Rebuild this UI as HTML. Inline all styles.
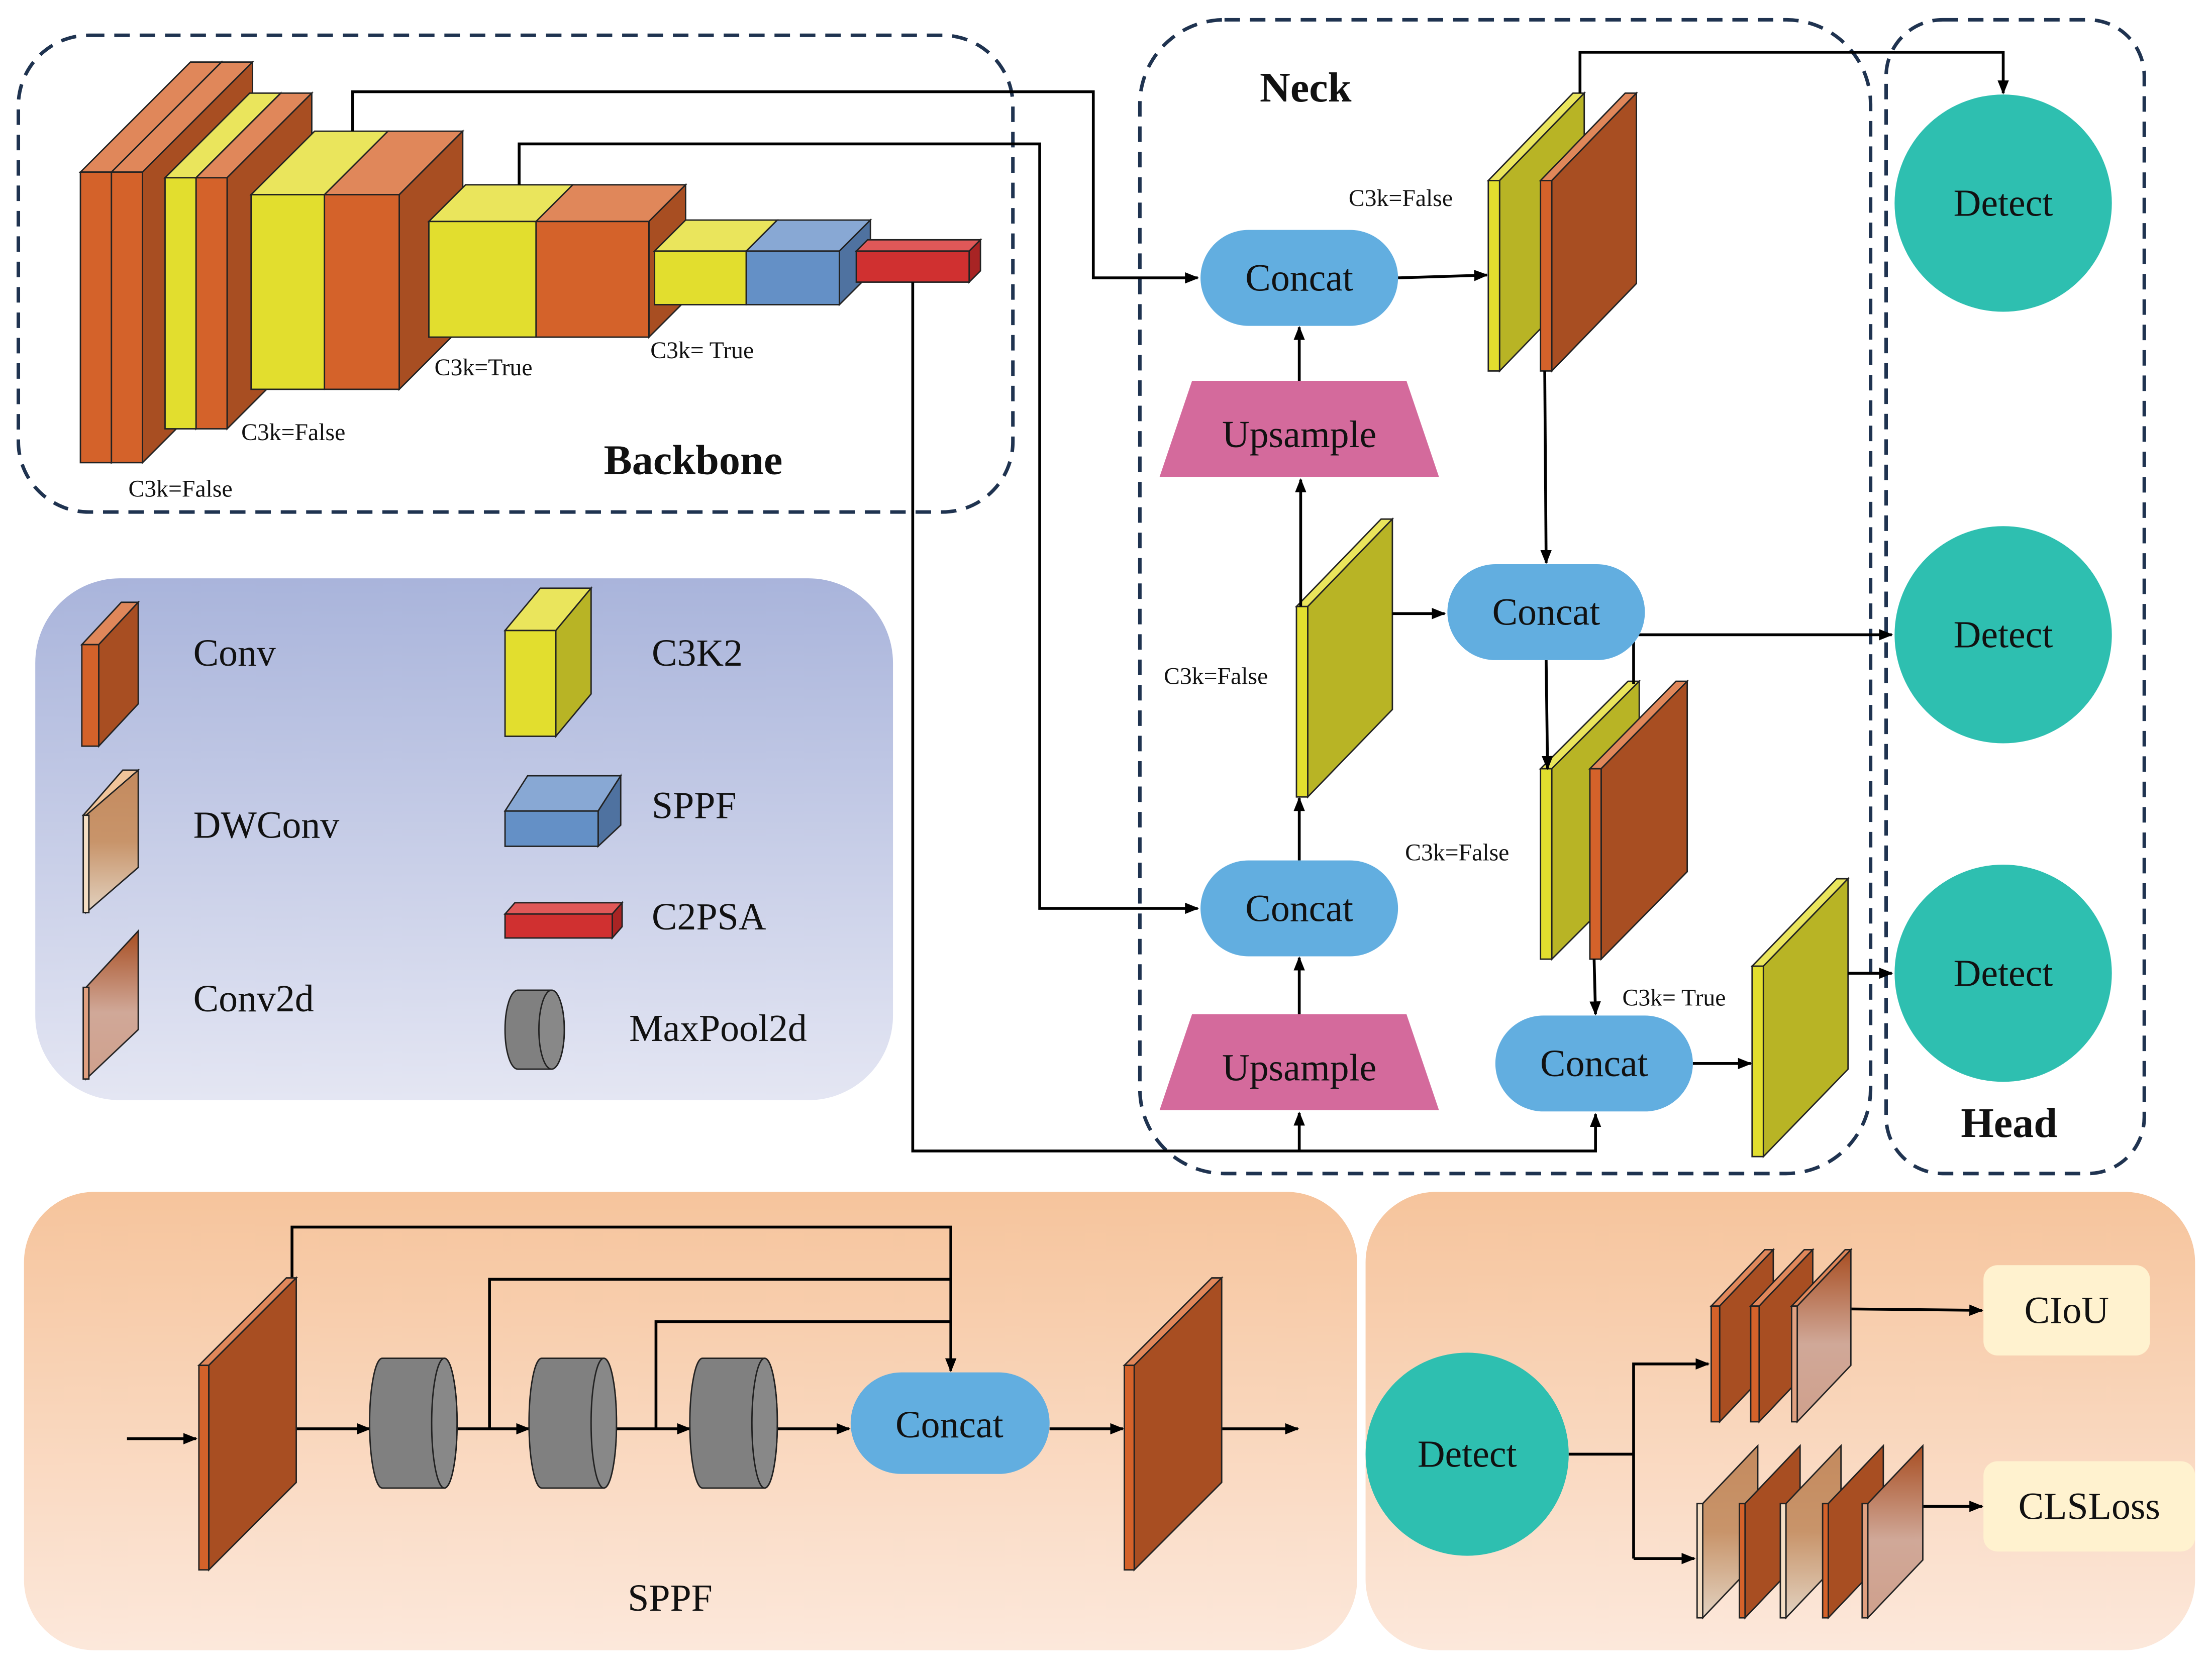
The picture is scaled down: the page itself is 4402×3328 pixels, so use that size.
<!DOCTYPE html>
<html><head><meta charset="utf-8"><style>
html,body{margin:0;padding:0;background:#fff;width:4402px;height:3328px;overflow:hidden}
svg{display:block}
svg text{font-family:"Liberation Serif","Times New Roman",serif !important;fill:#111}
</style></head><body>
<svg width="4402" height="3328" viewBox="0 0 1568 1185.4" xmlns="http://www.w3.org/2000/svg" font-family="Liberation Serif, serif">
<defs>
<marker id="a" markerWidth="10" markerHeight="10" refX="9" refY="5" orient="auto" markerUnits="userSpaceOnUse"><path d="M0,1 L10,5 L0,9 z" fill="#000"/></marker>
<linearGradient id="lg" x1="0" y1="0" x2="0" y2="1"><stop offset="0" stop-color="#A9B4DB"/><stop offset="1" stop-color="#E4E6F3"/></linearGradient>
<linearGradient id="og" x1="0" y1="0" x2="0" y2="1"><stop offset="0" stop-color="#F6C49C"/><stop offset="1" stop-color="#FCE8DB"/></linearGradient>
<linearGradient id="dw" x1="0" y1="0" x2="0" y2="1"><stop offset="0" stop-color="#C48A5E"/><stop offset="0.5" stop-color="#C8946A"/><stop offset="1" stop-color="#E2D2C0"/></linearGradient>
<linearGradient id="c2" x1="0" y1="0" x2="0" y2="1"><stop offset="0" stop-color="#A84E22"/><stop offset="0.55" stop-color="#D0A898"/><stop offset="1" stop-color="#CFA08C"/></linearGradient>
</defs>
<g stroke="#1F3350" stroke-width="2.5" stroke-dasharray="11 7" fill="none">
<rect x="13" y="25" width="705" height="338" rx="50"/>
<rect x="808" y="14" width="518" height="818" rx="60"/>
<rect x="1337" y="14" width="183" height="818" rx="40"/>
</g>
<rect x="25" y="410" width="608" height="370" rx="60" fill="url(#lg)"/>
<rect x="17" y="845" width="945" height="325" rx="50" fill="url(#og)"/>
<rect x="968" y="845" width="588" height="325" rx="50" fill="url(#og)"/>

<g stroke="#222" stroke-width="1">
<polygon points="57,122 135,44 157,44 79,122" fill="#E0875A"/><polygon points="79,122 157,44 157,250 79,328" fill="#A84E22"/><rect x="57" y="122" width="22" height="206" fill="#D4622A"/>
<polygon points="79,122 157,44 179,44 101,122" fill="#E0875A"/><polygon points="101,122 179,44 179,250 101,328" fill="#A84E22"/><rect x="79" y="122" width="22" height="206" fill="#D4622A"/>
<polygon points="117,126 177,66 199,66 139,126" fill="#EAE55C"/><polygon points="139,126 199,66 199,244 139,304" fill="#B8B425"/><rect x="117" y="126" width="22" height="178" fill="#E2DE2E"/>
<polygon points="139,126 199,66 221,66 161,126" fill="#E0875A"/><polygon points="161,126 221,66 221,244 161,304" fill="#A84E22"/><rect x="139" y="126" width="22" height="178" fill="#D4622A"/>
<polygon points="178,138 223,93 275,93 230,138" fill="#EAE55C"/><rect x="178" y="138" width="52" height="138" fill="#E2DE2E"/>
<polygon points="230,138 275,93 328,93 283,138" fill="#E0875A"/><polygon points="283,138 328,93 328,231 283,276" fill="#A84E22"/><rect x="230" y="138" width="53" height="138" fill="#D4622A"/>
<polygon points="304,157 330,131 406,131 380,157" fill="#EAE55C"/><rect x="304" y="157" width="76" height="82" fill="#E2DE2E"/>
<polygon points="380,157 406,131 486,131 460,157" fill="#E0875A"/><polygon points="460,157 486,131 486,213 460,239" fill="#A84E22"/><rect x="380" y="157" width="80" height="82" fill="#D4622A"/>
<polygon points="464,178 486,156 551,156 529,178" fill="#EAE55C"/><rect x="464" y="178" width="65" height="38" fill="#E2DE2E"/>
<polygon points="529,178 551,156 617,156 595,178" fill="#88A8D4"/><polygon points="595,178 617,156 617,194 595,216" fill="#4F72A0"/><rect x="529" y="178" width="66" height="38" fill="#6490C6"/>
<polygon points="607,178 615,170 695,170 687,178" fill="#E05858"/><polygon points="687,178 695,170 695,192 687,200" fill="#A82424"/><rect x="607" y="178" width="80" height="22" fill="#D03030"/>
</g>

<g stroke="#222" stroke-width="1">
<polygon points="1055,128 1115,66 1123,66 1063,128" fill="#EAE55C"/><polygon points="1063,128 1123,66 1123,201 1063,263" fill="#B8B425"/><rect x="1055" y="128" width="8" height="135" fill="#E2DE2E"/>
<polygon points="1092,128 1152,66 1160,66 1100,128" fill="#E0875A"/><polygon points="1100,128 1160,66 1160,201 1100,263" fill="#A84E22"/><rect x="1092" y="128" width="8" height="135" fill="#D4622A"/>
<polygon points="919,430 979,368 987,368 927,430" fill="#EAE55C"/><polygon points="927,430 987,368 987,503 927,565" fill="#B8B425"/><rect x="919" y="430" width="8" height="135" fill="#E2DE2E"/>
<polygon points="1092,545 1154,483 1162,483 1100,545" fill="#EAE55C"/><polygon points="1100,545 1162,483 1162,618 1100,680" fill="#B8B425"/><rect x="1092" y="545" width="8" height="135" fill="#E2DE2E"/>
<polygon points="1127,545 1188,483 1196,483 1135,545" fill="#E0875A"/><polygon points="1135,545 1196,483 1196,618 1135,680" fill="#A84E22"/><rect x="1127" y="545" width="8" height="135" fill="#D4622A"/>
<polygon points="1242,685 1302,623 1310,623 1250,685" fill="#EAE55C"/><polygon points="1250,685 1310,623 1310,758 1250,820" fill="#B8B425"/><rect x="1242" y="685" width="8" height="135" fill="#E2DE2E"/>
</g>

<g stroke="#000" stroke-width="2" fill="none">
<polyline points="250,93 250,65 775,65 775,197 849,197" marker-end="url(#a)"/>
<polyline points="368,131 368,102 737,102 737,644 849,644" marker-end="url(#a)"/>
<polyline points="647,200 647,816 1131,816 1131,790" marker-end="url(#a)"/>
<polyline points="921,816 921,789" marker-end="url(#a)"/>
<line x1="991" y1="197" x2="1054" y2="195" marker-end="url(#a)"/>
<line x1="921" y1="270" x2="921" y2="232" marker-end="url(#a)"/>
<line x1="922" y1="430" x2="922" y2="340" marker-end="url(#a)"/>
<line x1="921" y1="610" x2="921" y2="566" marker-end="url(#a)"/>
<line x1="921" y1="719" x2="921" y2="679" marker-end="url(#a)"/>
<line x1="987" y1="435" x2="1024" y2="435" marker-end="url(#a)"/>
<line x1="1095" y1="263" x2="1096" y2="399" marker-end="url(#a)"/>
<polyline points="1120,66 1120,37 1420,37 1420,66" marker-end="url(#a)"/>
<line x1="1096" y1="468" x2="1097" y2="545" marker-end="url(#a)"/>
<polyline points="1158,485 1158,450 1341,450" marker-end="url(#a)"/>
<line x1="1130" y1="680" x2="1131" y2="719" marker-end="url(#a)"/>
<line x1="1200" y1="754" x2="1241" y2="754" marker-end="url(#a)"/>
<line x1="1310" y1="690" x2="1341" y2="690" marker-end="url(#a)"/>
</g>

<g fill="#62AEE0">
<rect x="851" y="163" width="140" height="68" rx="34"/>
<rect x="1026" y="400" width="140" height="68" rx="34"/>
<rect x="851" y="610" width="140" height="68" rx="34"/>
<rect x="1060" y="720" width="140" height="68" rx="34"/>
<rect x="603" y="973" width="141" height="72" rx="36"/>
</g>
<polygon points="845,270 997,270 1020,338 822,338" fill="#D46A9C"/>
<polygon points="845,719 997,719 1020,787 822,787" fill="#D46A9C"/>
<g fill="#2EBFB0">
<circle cx="1420" cy="144" r="77"/><circle cx="1420" cy="450" r="77"/><circle cx="1420" cy="690" r="77"/><circle cx="1040" cy="1031" r="72"/>
</g>
<g font-size="27" text-anchor="middle" font-family="Liberation Serif, serif">
<text x="921" y="206">Concat</text><text x="1096" y="443">Concat</text><text x="921" y="653">Concat</text><text x="1130" y="763">Concat</text><text x="673" y="1019">Concat</text>
<text x="921" y="317">Upsample</text><text x="921" y="766">Upsample</text>
<text x="1420" y="153">Detect</text><text x="1420" y="459">Detect</text><text x="1420" y="699">Detect</text><text x="1040" y="1040">Detect</text>
</g>
<g font-size="17" font-family="Liberation Serif, serif">
<text x="91" y="352">C3k=False</text><text x="171" y="312">C3k=False</text><text x="308" y="266">C3k=True</text><text x="461" y="254">C3k= True</text>
<text x="956" y="146">C3k=False</text><text x="825" y="485">C3k=False</text><text x="996" y="610">C3k=False</text><text x="1150" y="713">C3k= True</text>
</g>
<g font-size="30" font-weight="bold" font-family="Liberation Serif, serif"><text x="428" y="336">Backbone</text><text x="893" y="72">Neck</text><text x="1390" y="806">Head</text></g>

<g stroke="#222" stroke-width="1">
<polygon points="58,457 86,427 98,427 70,457" fill="#E0875A"/><polygon points="70,457 98,427 98,499 70,529" fill="#A84E22"/><rect x="58" y="457" width="12" height="72" fill="#D4622A"/>
<polygon points="59,578 87,546 98,546 70,578" fill="#F0C49A"/><polygon points="61,578 98,546 98,615 61,647" fill="url(#dw)"/><rect x="59" y="578" width="4" height="69" fill="#F4DEC4"/>
<polygon points="61,700 98,660 98,730 61,765" fill="url(#c2)"/><rect x="59" y="700" width="4" height="65" fill="#E0A080"/>
<polygon points="358,447 383,417 419,417 394,447" fill="#EAE55C"/><polygon points="394,447 419,417 419,492 394,522" fill="#B8B425"/><rect x="358" y="447" width="36" height="75" fill="#E2DE2E"/>
<polygon points="358,575 374,550 440,550 424,575" fill="#88A8D4"/><polygon points="424,575 440,550 440,585 424,600" fill="#4F72A0"/><rect x="358" y="575" width="66" height="25" fill="#6490C6"/>
<polygon points="358,648 365,640 441,640 434,648" fill="#E05858"/><polygon points="434,648 441,640 441,657 434,665" fill="#A82424"/><rect x="358" y="648" width="76" height="17" fill="#D03030"/>
<path d="M367,702 L391,702 A9,28 0 0 1 391,758 L367,758 A9,28 0 0 1 367,702 z" fill="#808080"/><ellipse cx="391" cy="730" rx="9" ry="28" fill="#888"/>
</g>
<g font-size="27" font-family="Liberation Serif, serif">
<text x="137" y="472">Conv</text><text x="137" y="594">DWConv</text><text x="137" y="717">Conv2d</text>
<text x="462" y="472">C3K2</text><text x="462" y="580">SPPF</text><text x="462" y="659">C2PSA</text><text x="446" y="738">MaxPool2d</text>
</g>

<g stroke="#000" stroke-width="2" fill="none">
<line x1="90" y1="1020" x2="139" y2="1020" marker-end="url(#a)"/>
<line x1="210" y1="1013" x2="262" y2="1013" marker-end="url(#a)"/>
<line x1="323" y1="1013" x2="375" y2="1013" marker-end="url(#a)"/>
<line x1="437" y1="1013" x2="489" y2="1013" marker-end="url(#a)"/>
<line x1="551" y1="1013" x2="602" y2="1013" marker-end="url(#a)"/>
<line x1="744" y1="1013" x2="796" y2="1013" marker-end="url(#a)"/>
<line x1="866" y1="1013" x2="920" y2="1013" marker-end="url(#a)"/>
<polyline points="207,906 207,870 674,870 674,972" marker-end="url(#a)"/>
<polyline points="347,1013 347,907 674,907"/>
<polyline points="465,1013 465,937 674,937"/>
</g>
<g stroke="#222" stroke-width="1">
<polygon points="141,968 203,906 210,906 148,968" fill="#E0875A"/><polygon points="148,968 210,906 210,1051 148,1113" fill="#A84E22"/><rect x="141" y="968" width="7" height="145" fill="#D4622A"/>
<polygon points="797,968 859,906 866,906 804,968" fill="#E0875A"/><polygon points="804,968 866,906 866,1051 804,1113" fill="#A84E22"/><rect x="797" y="968" width="7" height="145" fill="#D4622A"/>
<path d="M271,963 L315,963 A9,46 0 0 1 315,1055 L271,1055 A9,46 0 0 1 271,963 z" fill="#808080"/><ellipse cx="315" cy="1009" rx="9" ry="46" fill="#888"/>
<path d="M384,963 L428,963 A9,46 0 0 1 428,1055 L384,1055 A9,46 0 0 1 384,963 z" fill="#808080"/><ellipse cx="428" cy="1009" rx="9" ry="46" fill="#888"/>
<path d="M498,963 L542,963 A9,46 0 0 1 542,1055 L498,1055 A9,46 0 0 1 498,963 z" fill="#808080"/><ellipse cx="542" cy="1009" rx="9" ry="46" fill="#888"/>
</g>
<text x="475" y="1142" font-size="27" text-anchor="middle" font-family="Liberation Serif, serif">SPPF</text>

<g stroke="#000" stroke-width="2" fill="none">
<polyline points="1112,1031 1158,1031"/>
<polyline points="1158,1105 1158,967 1211,967" marker-end="url(#a)"/>
<polyline points="1158,1105 1201,1105" marker-end="url(#a)"/>
<line x1="1310" y1="928" x2="1405" y2="929" marker-end="url(#a)"/>
<line x1="1362" y1="1068" x2="1405" y2="1068" marker-end="url(#a)"/>
</g>
<g stroke="#222" stroke-width="1">
<polygon points="1213,926 1251,886 1257,886 1219,926" fill="#E0875A"/><polygon points="1219,926 1257,886 1257,968 1219,1008" fill="#A84E22"/><rect x="1213" y="926" width="6" height="82" fill="#D4622A"/>
<polygon points="1241,926 1279,886 1285,886 1247,926" fill="#E0875A"/><polygon points="1247,926 1285,886 1285,968 1247,1008" fill="#A84E22"/><rect x="1241" y="926" width="6" height="82" fill="#D4622A"/>
<polygon points="1270,926 1308,886 1312,886 1274,926" fill="#E0875A"/><polygon points="1274,926 1312,886 1312,968 1274,1008" fill="url(#c2)"/><rect x="1270" y="926" width="4" height="82" fill="#E0A080"/>
<polygon points="1207,1066 1246,1025 1246,1106 1207,1147" fill="url(#dw)"/><rect x="1203" y="1066" width="4" height="81" fill="#F4DEC4"/>
<polygon points="1237,1066 1276,1025 1276,1106 1237,1147" fill="#A84E22"/><rect x="1233" y="1066" width="4" height="81" fill="#D4622A"/>
<polygon points="1266,1066 1305,1025 1305,1106 1266,1147" fill="url(#dw)"/><rect x="1262" y="1066" width="4" height="81" fill="#F4DEC4"/>
<polygon points="1296,1066 1335,1025 1335,1106 1296,1147" fill="#A84E22"/><rect x="1292" y="1066" width="4" height="81" fill="#D4622A"/>
<polygon points="1324,1066 1363,1025 1363,1106 1324,1147" fill="url(#c2)"/><rect x="1320" y="1066" width="4" height="81" fill="#E0A080"/>
</g>
<rect x="1406" y="897" width="118" height="64" rx="10" fill="#FFF2CF"/>
<rect x="1406" y="1036" width="150" height="64" rx="10" fill="#FFF2CF"/>
<text x="1465" y="938" font-size="27" text-anchor="middle" font-family="Liberation Serif, serif">CIoU</text>
<text x="1481" y="1077" font-size="27" text-anchor="middle" font-family="Liberation Serif, serif">CLSLoss</text>
</svg>
</body></html>
